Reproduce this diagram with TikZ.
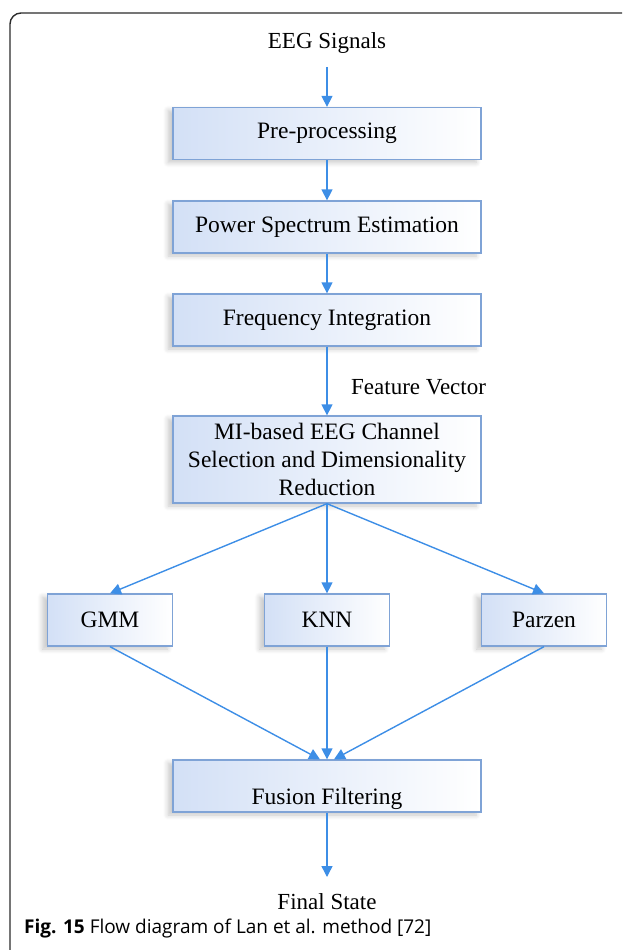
\documentclass[tikz,border=0pt]{standalone}
\usepackage{fontspec}
\setmainfont{Liberation Serif}
\newfontfamily\capfont{Open Sans}
\usetikzlibrary{arrows.meta,shadows.blur}
\definecolor{boxedge}{HTML}{7FA3D6}
\definecolor{boxfill}{HTML}{D3E0F6}
\definecolor{arrowblue}{HTML}{3D8EE6}
\definecolor{framec}{HTML}{2B2B2B}
\begin{document}
\begin{tikzpicture}[x=1pt,y=1pt,
  box/.style={draw=boxedge, line width=1.3pt, left color=boxfill, right color=white,
    minimum height=52pt, inner sep=0pt, font=\fontsize{23.5}{28}\selectfont, align=center,
    blur shadow={shadow xshift=-5pt, shadow yshift=-3pt, shadow blur radius=5pt, shadow blur steps=6, shadow opacity=22}},
  wide/.style={box, minimum width=308pt},
  small/.style={box, minimum width=125pt},
  arr/.style={draw=arrowblue, line width=1.4pt, -{Triangle[length=11pt,width=11pt]}},
  lbl/.style={font=\fontsize{23}{26}\selectfont, inner sep=0pt}]
\useasboundingbox (0,0) rectangle (622,-950);
\begin{scope}
\clip (0,0) rectangle (622,-950);
\draw[framec, line width=1.4pt, rounded corners=11pt] (10,-960) -- (10,-13) -- (640,-13);
\end{scope}
\node[lbl] (eeg) at (327,-43) {EEG Signals};
\node[wide] (pre) at (327,-133.5) {Pre-processing};
\node[wide] (pse) at (327,-227) {Power Spectrum Estimation};
\node[wide] (fi) at (327,-320) {Frequency Integration};
\node[wide, minimum height=87pt] (mi) at (327,-459.5) {MI-based EEG Channel\\Selection and Dimensionality\\Reduction};
\node[small] (gmm) at (110,-620) {GMM};
\node[small] (knn) at (327,-620) {KNN};
\node[small] (parzen) at (544,-620) {Parzen};
\node[wide] (fus) at (327,-786) {\raisebox{-18pt}[0pt][0pt]{Fusion Filtering}};
\node[lbl] (fin) at (327,-902) {Final State};
\node[lbl, anchor=west] (fv) at (351,-387) {Feature Vector};
\node[anchor=west, font=\capfont\fontsize{19}{22}\selectfont, inner sep=0pt] (cap) at (24,-929)
  {\textbf{Fig. 15} Flow diagram of Lan et al. method [72]};
\coordinate (eegb) at (327,-67);
\coordinate (finT) at (327,-877);
\draw[arr] (eegb) -- (pre.north);
\draw[arr] (pre.south) -- (pse.north);
\draw[arr] (pse.south) -- (fi.north);
\draw[arr] (fi.south) -- (mi.north);
\draw[arr] (mi.south) -- (gmm.north);
\draw[arr] (mi.south) -- (knn.north);
\draw[arr] (mi.south) -- (parzen.north);
\draw[arr] (gmm.south) -- ([xshift=-7pt]fus.north);
\draw[arr] (knn.south) -- (fus.north);
\draw[arr] (parzen.south) -- ([xshift=7pt]fus.north);
\draw[arr] (fus.south) -- (finT);
\end{tikzpicture}
\end{document}
